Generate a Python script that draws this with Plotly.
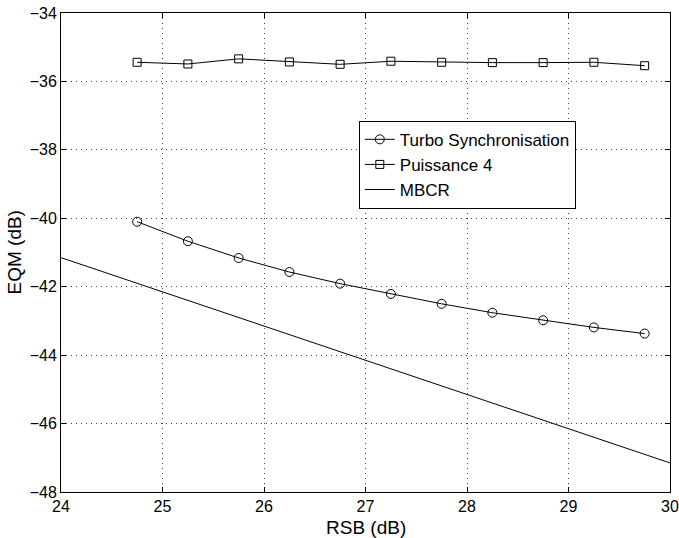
import plotly.graph_objects as go

# RSB (dB) sample points for the two estimators
rsb = [24.75, 25.25, 25.75, 26.25, 26.75, 27.25, 27.75, 28.25, 28.75, 29.25, 29.75]

# EQM (dB) of the turbo synchronisation estimator
eqm_turbo = [-40.10, -40.67, -41.16, -41.57, -41.91, -42.21, -42.50, -42.76, -42.98, -43.19, -43.37]

# EQM (dB) of the 4th-power estimator
eqm_puissance4 = [-35.44, -35.49, -35.34, -35.43, -35.50, -35.41, -35.44, -35.45, -35.45, -35.44, -35.54]

# Modified Cramer-Rao bound
rsb_mbcr = [24.0, 25.0, 26.0, 27.0, 28.0, 29.0, 30.0]
eqm_mbcr = [-41.15, -42.15, -43.15, -44.15, -45.15, -46.15, -47.15]

x_ticks = [24, 25, 26, 27, 28, 29, 30]
y_ticks = [-48, -46, -44, -42, -40, -38, -36, -34]

FONT = "Liberation Sans, Arial, Helvetica, sans-serif"

fig = go.Figure()
fig.add_trace(go.Scatter(
    x=rsb, y=eqm_turbo, mode="lines+markers", name="Turbo Synchronisation",
    line=dict(color="black", width=1),
    marker=dict(symbol="circle-open", size=9, color="black", line=dict(width=1)),
))
fig.add_trace(go.Scatter(
    x=rsb, y=eqm_puissance4, mode="lines+markers", name="Puissance 4",
    line=dict(color="black", width=1),
    marker=dict(symbol="square-open", size=8, color="black", line=dict(width=1)),
))
fig.add_trace(go.Scatter(
    x=rsb_mbcr, y=eqm_mbcr, mode="lines", name="MBCR",
    line=dict(color="black", width=1),
))

axis_common = dict(
    showline=True, linecolor="black", linewidth=1, mirror="ticks",
    ticks="inside", ticklen=5, tickcolor="black",
    showgrid=True, gridcolor="#444444", griddash="1px,4px", gridwidth=1,
    zeroline=False, automargin=False,
    tickfont=dict(family=FONT, size=16, color="black"),
)

fig.update_layout(
    width=679, height=538,
    margin=dict(l=61, r=9, t=13, b=46),
    paper_bgcolor="white", plot_bgcolor="white",
    font=dict(family=FONT, color="black"),
    xaxis=dict(range=[24, 30], tickvals=x_ticks, **axis_common),
    yaxis=dict(range=[-48, -34], tickvals=y_ticks,
               ticktext=[f"\u2212{abs(v)}" for v in y_ticks],
               **axis_common),
    legend=dict(x=0.489, y=0.775, xanchor="left", yanchor="top",
                bgcolor="white", bordercolor="black", borderwidth=1,
                font=dict(family=FONT, size=17), tracegroupgap=0,
                itemwidth=30),
    showlegend=True,
    annotations=[
        dict(text="RSB (dB)", xref="paper", yref="paper", x=0.5, y=0,
             xanchor="center", yanchor="middle", yshift=-35, showarrow=False,
             font=dict(family=FONT, size=19, color="black")),
        dict(text="EQM (dB)", xref="paper", yref="paper", x=0, y=0.5,
             xanchor="center", yanchor="middle", xshift=-47, textangle=-90,
             showarrow=False, font=dict(family=FONT, size=19, color="black")),
    ],
)

fig.write_html("out.html")
